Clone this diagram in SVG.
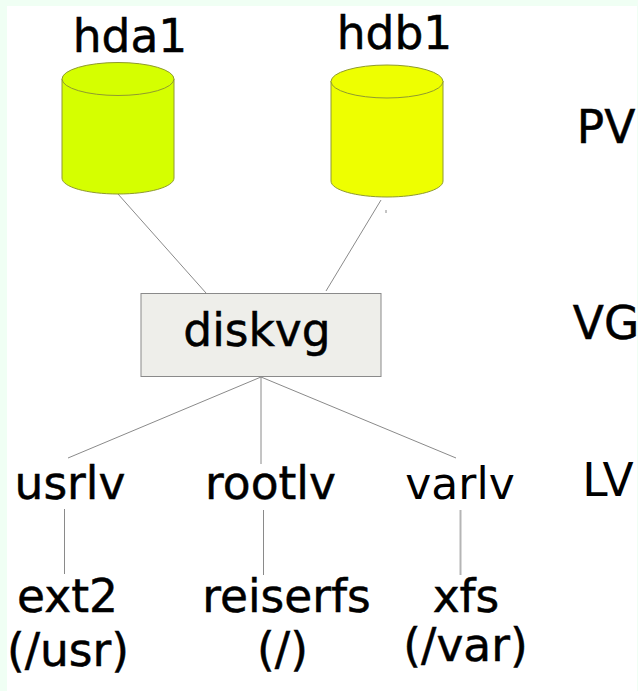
<svg xmlns="http://www.w3.org/2000/svg" width="638" height="691" viewBox="0 0 638 691">
<style>
text{font-family:"DejaVu Sans",sans-serif;fill:#000;stroke:#000;stroke-width:.5;text-anchor:middle;font-size:45.500px}
text.t{font-size:44px;stroke-width:0}
.c{stroke:#8a8a8a;stroke-width:1;fill:none}
.d{stroke:#8f9a30;stroke-width:1}
</style>
<rect width="638" height="691" fill="#f0fff4"/>
<rect x="7" y="6" width="630" height="685" fill="#fff"/>
<g id="connectors">
<path class="c" d="M118 194L206 293"/>
<path class="c" d="M381 200L326 291"/>
<path class="c" d="M386 210L386 213"/>
<path class="c" d="M261 377L68 458"/>
<path class="c" d="M261 377V464"/>
<path class="c" d="M261 377L456 458"/>
<path class="c" d="M64.500 509V574"/>
<path class="c" d="M263.500 510V575"/>
<path class="c" style="stroke:#b5b5b5;stroke-width:2" d="M460.500 510V575"/>
</g>
<g id="hda1">
<path class="d" fill="#d5ff00" d="M62 79V178C62 187 87 194 118 194S174 187 174 178V79Z"/>
<ellipse class="d" fill="#d5ff00" cx="118" cy="79" rx="56" ry="16.500"/>
<text x="130" y="52">hda1</text>
</g>
<g id="hdb1">
<path class="d" fill="#eeff00" d="M331 81V181C331 190 356 197 387 197S443 190 443 181V81Z"/>
<ellipse class="d" fill="#eeff00" cx="387" cy="81.500" rx="56" ry="16.500"/>
<text x="394.500" y="49">hdb1</text>
</g>
<g id="diskvg">
<rect x="141" y="293.500" width="240" height="83" fill="#eeeeea" stroke="#8a8a8a"/>
<text x="257" y="346">diskvg</text>
</g>
<g id="PV"><text x="606" y="143">PV</text></g>
<g id="VG"><text x="606" y="339">VG</text></g>
<g id="LV"><text class="t" x="608" y="496" style="font-size:45.500px">LV</text></g>
<g id="usrlv"><text x="70" y="499">usrlv</text></g>
<g id="rootlv"><text x="270.500" y="499">rootlv</text></g>
<g id="varlv"><text class="t" x="460" y="499">varlv</text></g>
<g id="ext2"><text x="67.500" y="612">ext2</text><text x="68" y="666">(/usr)</text></g>
<g id="reiserfs"><text x="286.500" y="612">reiserfs</text><text x="282.500" y="665">(/)</text></g>
<g id="xfs"><text x="466" y="612">xfs</text><text x="465.500" y="661">(/var)</text></g>
</svg>
